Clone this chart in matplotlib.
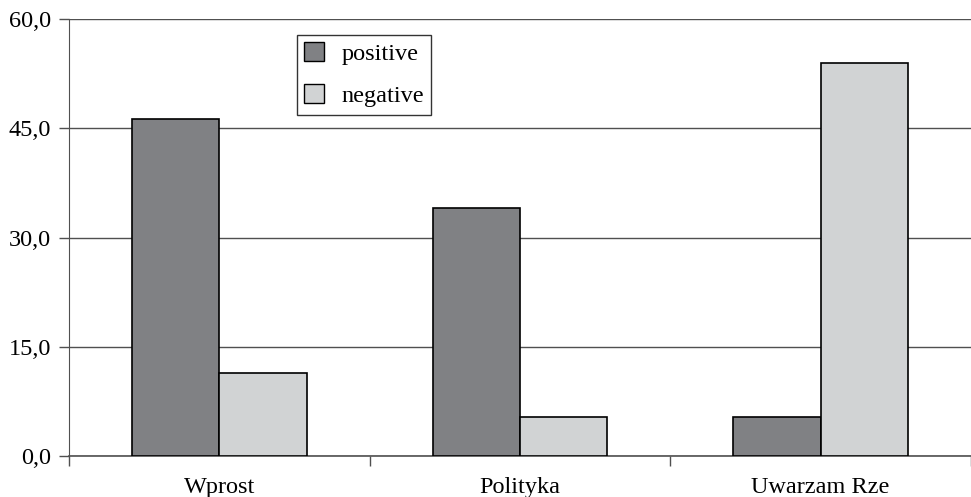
import matplotlib
matplotlib.use("Agg")
from matplotlib import pyplot as plt
from matplotlib.patches import Patch
import numpy as np

plt.rcParams['font.family'] = ['Liberation Serif', 'DejaVu Serif']

categories = ["Wprost", "Polityka", "Uwarzam Rze"]
positive = [46.3, 34.0, 5.4]
negative = [11.4, 5.4, 54.0]
yticks = [0, 15, 30, 45, 60]

DARK = "#808184"
LIGHT = "#d1d3d4"
GRID = "#505050"
W = 0.29
FS = 17.5

fig = plt.figure(figsize=(9.71, 4.97), dpi=100)
ax = fig.add_axes([69/971, 1-456/497, 1-69/971, 437/497])

x = np.arange(len(categories))
ax.bar(x - W/2, positive, W, color=DARK, edgecolor="black", linewidth=1.2, zorder=3)
ax.bar(x + W/2, negative, W, color=LIGHT, edgecolor="black", linewidth=1.2, zorder=3)

ax.set_xlim(-0.5, 2.5)
ax.set_ylim(0, 60)
ax.set_yticks(yticks)
ax.set_yticklabels([("%.1f" % v).replace(".", ",") for v in yticks], fontsize=FS)
ax.yaxis.grid(True, color=GRID, linewidth=1.0, zorder=0)

ax.set_xticks(x)
ax.set_xticklabels(categories, fontsize=FS)
ax.tick_params(axis="x", which="major", length=0, pad=15)
ax.set_xticks([-0.5, 0.5, 1.5, 2.5], minor=True)
ax.tick_params(axis="x", which="minor", length=7, width=1, color=GRID, direction="out")
ax.tick_params(axis="y", length=7, width=1, color=GRID, pad=6)

for s in ["top", "right"]:
    ax.spines[s].set_visible(False)
ax.spines["left"].set_color(GRID)
ax.spines["bottom"].set_color(GRID)
ax.spines["bottom"].set_linewidth(1.2)

handles = [Patch(facecolor=DARK, edgecolor="black", linewidth=1.0, label="positive"),
           Patch(facecolor=LIGHT, edgecolor="black", linewidth=1.0, label="negative")]
leg = fig.legend(handles=handles, loc="upper left", bbox_to_anchor=(297/971, 1-35/497),
                 fontsize=FS, frameon=True, fancybox=False, edgecolor="black",
                 handlelength=0.8, handleheight=0.8, handletextpad=0.72,
                 labelspacing=0.8, borderpad=0.3, borderaxespad=0)
leg.get_frame().set_linewidth(1.0)

fig.savefig("out.png", dpi=100)
